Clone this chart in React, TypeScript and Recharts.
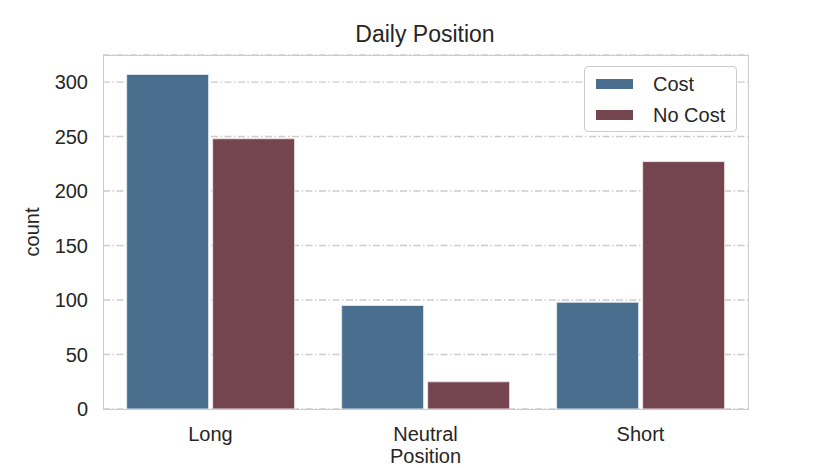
import React from 'react';
import { BarChart, Bar, XAxis, YAxis, CartesianGrid } from 'recharts';

const categories = ['Long', 'Neutral', 'Short'];
const costValues = [307, 95, 98];
const noCostValues = [248, 25, 227];
const yTicks = [0, 50, 100, 150, 200, 250, 300];
const seriesNames = ['Cost', 'No Cost'];
const seriesColors = ['#4a6f8e', '#74444f'];

const data = categories.map((c, i) => ({ position: c, cost: costValues[i], noCost: noCostValues[i] }));

const FONT = '"Liberation Sans", Arial, Helvetica, sans-serif';
const TEXT = '#262626';

const LegendBox = () => (
  <div
    style={{
      position: 'absolute',
      left: 584,
      top: 66,
      width: 153,
      height: 66,
      border: '1.5px solid #cccccc',
      borderRadius: 4,
      background: '#ffffff',
      fontFamily: FONT,
      fontSize: 20,
      color: TEXT,
      boxSizing: 'border-box',
    }}
  >
    {seriesNames.map((n, i) => (
      <div key={n} style={{ position: 'absolute', left: 11, top: 5 + i * 31, height: 24, display: 'flex', alignItems: 'center' }}>
        <div style={{ width: 37, height: 10, background: seriesColors[i], marginRight: 20 }} />
        <span style={{ lineHeight: '24px' }}>{n}</span>
      </div>
    ))}
  </div>
);

export default function App() {
  return (
    <div style={{ position: 'absolute', left: 0, top: 0, width: 830, height: 468, background: '#fff' }}>
      <BarChart
        width={830}
        height={468}
        data={data}
        margin={{ top: 55, right: 82, left: 0, bottom: 0 }}
        barCategoryGap="11%"
        barGap={4}
      >
        <CartesianGrid
          horizontal
          vertical={false}
          stroke="#cccccc"
          strokeWidth={1.3}
          strokeDasharray="7 2.5 1.5 2.5"
        />
        <text x={425} y={42} textAnchor="middle" fontFamily={FONT} fontSize={23} fill={TEXT}>
          Daily Position
        </text>
        <XAxis
          dataKey="position"
          height={59}
          tickSize={0}
          tickMargin={18}
          axisLine={false}
          tick={{ fontFamily: FONT, fontSize: 20, fill: TEXT }}
          label={{
            content: (props: any) => {
              const vb = props.viewBox || {};
              return (
                <text x={vb.x + vb.width / 2} y={463} textAnchor="middle" fontFamily={FONT} fontSize={20} fill={TEXT}>
                  Position
                </text>
              );
            },
          }}
        />
        <YAxis
          width={103}
          domain={[0, 324.8]}
          ticks={yTicks}
          tickSize={0}
          tickMargin={15}
          axisLine={false}
          tick={{ fontFamily: FONT, fontSize: 20, fill: TEXT }}
          label={{
            content: (props: any) => {
              const vb = props.viewBox || {};
              const cy = vb.y + vb.height / 2;
              return (
                <text
                  x={39}
                  y={cy}
                  transform={`rotate(-90, 39, ${cy})`}
                  textAnchor="middle"
                  fontFamily={FONT}
                  fontSize={20}
                  fill={TEXT}
                >
                  count
                </text>
              );
            },
          }}
        />
        <Bar dataKey="cost" name={seriesNames[0]} fill={seriesColors[0]} stroke="#dfe8ef" strokeWidth={1} isAnimationActive={false} />
        <Bar dataKey="noCost" name={seriesNames[1]} fill={seriesColors[1]} stroke="#eddfe2" strokeWidth={1} isAnimationActive={false} />
      </BarChart>
      <div
        style={{
          position: 'absolute',
          left: 102.5,
          top: 54.5,
          width: 646,
          height: 355,
          border: '1.5px solid #cccccc',
          boxSizing: 'border-box',
          pointerEvents: 'none',
        }}
      />
      <LegendBox />
    </div>
  );
}
